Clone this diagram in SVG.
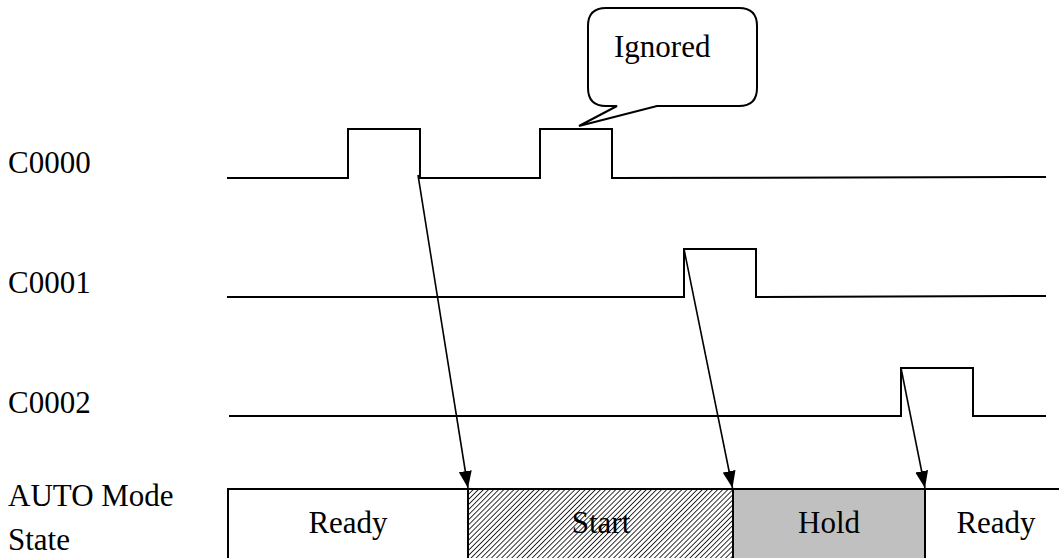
<svg xmlns="http://www.w3.org/2000/svg" width="1059" height="558" viewBox="0 0 1059 558">
  <style>
    .lbl { font-family: "Liberation Serif", "Times New Roman", serif; font-size: 31px; fill: #000; }
    .sig { fill: none; stroke: #000; stroke-width: 2; }
    .arr { fill: none; stroke: #000; stroke-width: 1.6; }
    .box { stroke: #000; stroke-width: 2; }
  </style>
  <defs>
    <marker id="ah" markerWidth="17" markerHeight="13" refX="17" refY="6.5" orient="auto" markerUnits="userSpaceOnUse">
      <path d="M0,0 L17,6.5 L0,13 z" fill="#000"/>
    </marker>
    <pattern id="hatch" width="3.6" height="3.6" patternUnits="userSpaceOnUse" patternTransform="rotate(45)">
      <rect width="3.6" height="3.6" fill="#fff"/>
      <line x1="0" y1="0" x2="0" y2="3.6" stroke="#000" stroke-width="1.6"/>
    </pattern>
  </defs>
  <rect width="1059" height="558" fill="#fff"/>

  <g id="labels">
    <text class="lbl" x="8" y="173">C0000</text>
    <text class="lbl" x="8" y="293">C0001</text>
    <text class="lbl" x="8" y="413">C0002</text>
    <text class="lbl" x="8" y="506">AUTO Mode</text>
    <text class="lbl" x="8" y="550">State</text>
  </g>

  <g id="signal-c0000">
    <polyline class="sig" points="227,178 348,178 348,129 420,129 420,178 540,178 540,129 612,129 612,178 1046,177"/>
  </g>
  <g id="signal-c0001">
    <polyline class="sig" points="227,297 684,297 684,249 756,249 756,297 1046,296"/>
  </g>
  <g id="signal-c0002">
    <polyline class="sig" points="229,416 901,416 901,368 973,368 973,416 1046,416"/>
  </g>

  <g id="callout-ignored">
    <path class="sig" d="M606,8 L739,8 Q757,8 757,26 L757,88 Q757,106 739,106 L657,106 L579,126 L617,106 L606,106 Q588,106 588,88 L588,26 Q588,8 606,8 Z" style="fill:#fff"/>
    <text class="lbl" x="614" y="57">Ignored</text>
  </g>

  <g id="state-ready-1">
    <rect class="box" x="228" y="489" width="240" height="90" fill="#fff"/>
    <text class="lbl" x="348" y="533" text-anchor="middle">Ready</text>
  </g>
  <g id="state-start">
    <rect class="box" x="468" y="489" width="265" height="90" fill="url(#hatch)"/>
    <text class="lbl" x="601" y="533" text-anchor="middle">Start</text>
  </g>
  <g id="state-hold">
    <rect class="box" x="733" y="489" width="192" height="90" fill="#c0c0c0"/>
    <text class="lbl" x="829" y="533" text-anchor="middle">Hold</text>
  </g>
  <g id="state-ready-2">
    <rect class="box" x="925" y="489" width="145" height="90" fill="#fff"/>
    <text class="lbl" x="996" y="533" text-anchor="middle">Ready</text>
  </g>

  <g id="connectors">
    <line class="arr" x1="418" y1="175" x2="468" y2="488" marker-end="url(#ah)"/>
    <line class="arr" x1="684" y1="249" x2="732.5" y2="488" marker-end="url(#ah)"/>
    <line class="arr" x1="901" y1="368" x2="925" y2="488" marker-end="url(#ah)"/>
  </g>
</svg>
